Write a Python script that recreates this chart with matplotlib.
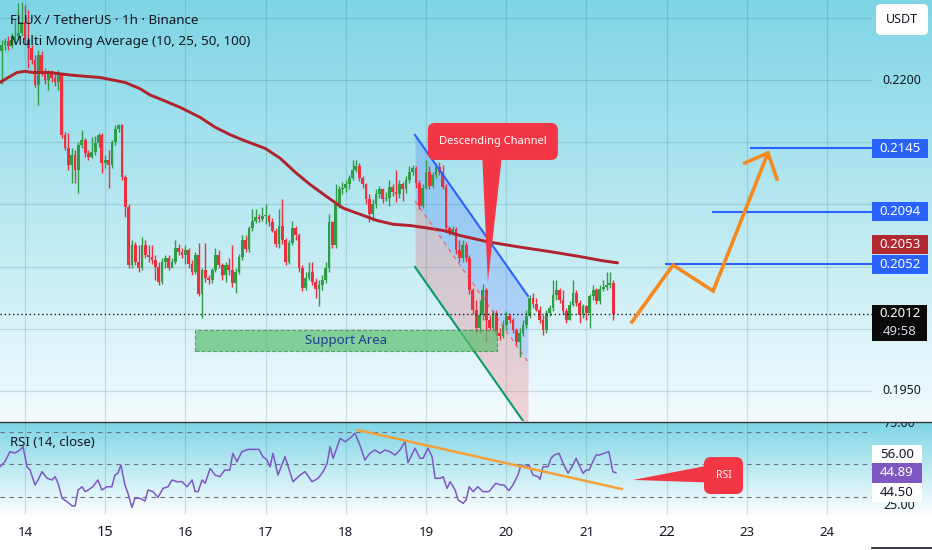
import numpy as np
import matplotlib
matplotlib.use("Agg")
import matplotlib.pyplot as plt
import matplotlib.transforms as mtransforms
from matplotlib.patches import FancyBboxPatch, Polygon, Rectangle
from matplotlib.lines import Line2D

plt.rcParams['font.family'] = ['Noto Sans', 'DejaVu Sans']

# ---------------- data (FLUX/USDT 1h, hours counted from 14 Mar 00:00) ----------------
start_hour = -7
first_open = 0.2223
closes = [0.2228, 0.2231, 0.2227, 0.2232, 0.2235, 0.2238, 0.2247, 0.2232, 0.2226, 0.2216,
          0.2196, 0.2220, 0.2206, 0.2200, 0.2206, 0.2202, 0.2198, 0.2205, 0.2156, 0.2145,
          0.2132, 0.2140, 0.2128, 0.2148, 0.2152, 0.2141, 0.2138, 0.2142, 0.2149, 0.2156,
          0.2133, 0.2136, 0.2132, 0.2150, 0.2161, 0.2164, 0.2122, 0.2098, 0.2051, 0.2067,
          0.2054, 0.2049, 0.2067, 0.2059, 0.2058, 0.2055, 0.2050, 0.2038, 0.2054, 0.2057,
          0.2049, 0.2054, 0.2065, 0.2062, 0.2059, 0.2063, 0.2052, 0.2046, 0.2059, 0.2028,
          0.2047, 0.2041, 0.2039, 0.2047, 0.2059, 0.2051, 0.2043, 0.2051, 0.2047, 0.2037,
          0.2046, 0.2058, 0.2071, 0.2064, 0.2081, 0.2087, 0.2090, 0.2088, 0.2091, 0.2091,
          0.2086, 0.2079, 0.2068, 0.2083, 0.2071, 0.2054, 0.2069, 0.2081, 0.2075, 0.2049,
          0.2033, 0.2041, 0.2046, 0.2038, 0.2032, 0.2035, 0.2039, 0.2049, 0.2086, 0.2067,
          0.2100, 0.2112, 0.2113, 0.2116, 0.2121, 0.2128, 0.2131, 0.2121, 0.2116, 0.2104,
          0.2092, 0.2100, 0.2108, 0.2112, 0.2104, 0.2105, 0.2114, 0.2110, 0.2108, 0.2116,
          0.2112, 0.2120, 0.2126, 0.2129, 0.2117, 0.2099, 0.2113, 0.2126, 0.2115, 0.2124,
          0.2130, 0.2126, 0.2114, 0.2081, 0.2078, 0.2080, 0.2063, 0.2057, 0.2067, 0.2057,
          0.2031, 0.2015, 0.2001, 0.2011, 0.2031, 0.2007, 0.2001, 0.2013, 0.1997, 0.1994,
          0.2003, 0.2010, 0.2007, 0.1999, 0.1989, 0.1997, 0.2003, 0.2010, 0.2025, 0.2020,
          0.2015, 0.2007, 0.1999, 0.2013, 0.2017, 0.2027, 0.2031, 0.2023, 0.2014, 0.2007,
          0.2019, 0.2029, 0.2021, 0.2011, 0.2018, 0.2013, 0.2026, 0.2031, 0.2022, 0.2032,
          0.2034, 0.2035, 0.2037, 0.2012]
highs = [0.2232, 0.2234, 0.2235, 0.2238, 0.2248, 0.2262, 0.2263, 0.2260, 0.2256, 0.2228,
         0.2220, 0.2224, 0.2223, 0.2210, 0.2208, 0.2208, 0.2206, 0.2208, 0.2206, 0.2158,
         0.2157, 0.2145, 0.2144, 0.2150, 0.2160, 0.2153, 0.2144, 0.2154, 0.2155, 0.2157,
         0.2157, 0.2140, 0.2144, 0.2152, 0.2164, 0.2165, 0.2165, 0.2124, 0.2100, 0.2071,
         0.2070, 0.2067, 0.2074, 0.2071, 0.2067, 0.2067, 0.2059, 0.2054, 0.2057, 0.2059,
         0.2059, 0.2057, 0.2071, 0.2068, 0.2065, 0.2067, 0.2065, 0.2055, 0.2062, 0.2069,
         0.2049, 0.2069, 0.2043, 0.2049, 0.2065, 0.2063, 0.2053, 0.2054, 0.2057, 0.2067,
         0.2049, 0.2060, 0.2075, 0.2075, 0.2083, 0.2096, 0.2096, 0.2092, 0.2098, 0.2100,
         0.2092, 0.2089, 0.2081, 0.2096, 0.2104, 0.2073, 0.2071, 0.2087, 0.2083, 0.2077,
         0.2051, 0.2046, 0.2054, 0.2054, 0.2041, 0.2039, 0.2043, 0.2054, 0.2092, 0.2087,
         0.2116, 0.2115, 0.2118, 0.2120, 0.2124, 0.2136, 0.2136, 0.2133, 0.2123, 0.2117,
         0.2108, 0.2104, 0.2112, 0.2115, 0.2113, 0.2110, 0.2120, 0.2116, 0.2128, 0.2120,
         0.2118, 0.2123, 0.2131, 0.2132, 0.2131, 0.2120, 0.2116, 0.2136, 0.2131, 0.2126,
         0.2133, 0.2134, 0.2132, 0.2116, 0.2083, 0.2083, 0.2082, 0.2071, 0.2071, 0.2070,
         0.2059, 0.2033, 0.2023, 0.2023, 0.2036, 0.2033, 0.2011, 0.2015, 0.2015, 0.2001,
         0.2007, 0.2014, 0.2012, 0.2009, 0.2001, 0.2001, 0.2007, 0.2015, 0.2027, 0.2029,
         0.2025, 0.2018, 0.2011, 0.2015, 0.2019, 0.2039, 0.2039, 0.2033, 0.2031, 0.2017,
         0.2022, 0.2039, 0.2031, 0.2023, 0.2020, 0.2019, 0.2028, 0.2035, 0.2033, 0.2035,
         0.2039, 0.2046, 0.2046, 0.2039]
lows = [0.2197, 0.2224, 0.2224, 0.2226, 0.2229, 0.2232, 0.2235, 0.2229, 0.2210, 0.2213,
        0.2194, 0.2180, 0.2203, 0.2197, 0.2192, 0.2198, 0.2195, 0.2192, 0.2153, 0.2144,
        0.2128, 0.2117, 0.2117, 0.2109, 0.2145, 0.2138, 0.2136, 0.2137, 0.2140, 0.2146,
        0.2125, 0.2129, 0.2113, 0.2129, 0.2148, 0.2158, 0.2120, 0.2090, 0.2049, 0.2049,
        0.2051, 0.2046, 0.2047, 0.2057, 0.2054, 0.2052, 0.2039, 0.2035, 0.2036, 0.2049,
        0.2047, 0.2049, 0.2052, 0.2059, 0.2057, 0.2052, 0.2049, 0.2043, 0.2044, 0.2026,
        0.2009, 0.2038, 0.2036, 0.2037, 0.2046, 0.2049, 0.2039, 0.2038, 0.2043, 0.2034,
        0.2029, 0.2044, 0.2055, 0.2062, 0.2062, 0.2079, 0.2085, 0.2086, 0.2087, 0.2084,
        0.2083, 0.2078, 0.2066, 0.2065, 0.2068, 0.2051, 0.2052, 0.2067, 0.2071, 0.2046,
        0.2030, 0.2031, 0.2039, 0.2035, 0.2025, 0.2018, 0.2031, 0.2037, 0.2046, 0.2065,
        0.2065, 0.2097, 0.2108, 0.2110, 0.2112, 0.2120, 0.2126, 0.2119, 0.2113, 0.2100,
        0.2086, 0.2087, 0.2097, 0.2105, 0.2101, 0.2103, 0.2099, 0.2107, 0.2102, 0.2105,
        0.2103, 0.2109, 0.2117, 0.2124, 0.2113, 0.2096, 0.2097, 0.2112, 0.2112, 0.2113,
        0.2121, 0.2124, 0.2112, 0.2078, 0.2075, 0.2075, 0.2060, 0.2054, 0.2054, 0.2054,
        0.2028, 0.2012, 0.1997, 0.1997, 0.2007, 0.1989, 0.1999, 0.1999, 0.1994, 0.1991,
        0.1993, 0.1999, 0.2005, 0.1997, 0.1987, 0.1977, 0.1994, 0.2001, 0.2009, 0.2017,
        0.2014, 0.2005, 0.1995, 0.1997, 0.2010, 0.2014, 0.2023, 0.2021, 0.2012, 0.2005,
        0.2007, 0.2018, 0.2018, 0.2005, 0.2009, 0.2007, 0.2001, 0.2023, 0.2020, 0.2020,
        0.2030, 0.2031, 0.2033, 0.2007]

# 100-period moving average
ma_hours = [-7.5, -5, -2.4, 0, 2.4, 7.5, 13.5, 22.5, 30, 34.4, 37.4, 42, 46.4, 52.4, 56.9,
            61.4, 65.9, 71.9, 76.4, 80.8, 85.3, 90.4, 95.2, 100.3, 105.4, 110.2, 115.3,
            120.4, 125.2, 130.2, 138.3, 147.3, 157.2, 166.2, 172.2, 177.3]
ma_values = [0.2198, 0.2202, 0.2206, 0.2207, 0.2206, 0.2206, 0.2204, 0.2202, 0.2198, 0.2193,
             0.2188, 0.2183, 0.2178, 0.2170, 0.2162, 0.2156, 0.2151, 0.2145, 0.2137, 0.2126,
             0.2116, 0.2106, 0.2097, 0.2092, 0.2087, 0.2084, 0.2083, 0.2081, 0.2079, 0.2075,
             0.2070, 0.2066, 0.2062, 0.2058, 0.2055, 0.2053]

# RSI(14)
rsi_hours = [-7.5, -6.0, -4.5, -3.0, -1.5, -0.6, 0.6, 1.5, 3.0, 3.9,
             5.1, 6.6, 8.1, 9.0, 9.9, 11.1, 12.6, 14.1, 15.0, 15.9,
             17.1, 18.0, 18.9, 20.3, 21.8, 23.0, 24.5, 26.0, 26.9, 27.8,
             28.7, 29.9, 30.8, 32.0, 32.9, 34.4, 35.9, 36.8, 38.3, 39.8,
             41.3, 42.8, 44.0, 45.5, 47.0, 48.5, 50.0, 50.9, 51.8, 53.0,
             53.9, 55.4, 56.9, 58.3, 59.8, 61.3, 62.2, 63.4, 64.9, 66.7,
             69.4, 70.0, 71.2, 72.4, 73.3, 74.2, 75.7, 77.8, 80.2, 82.3,
             83.8, 85.9, 87.7, 89.2, 90.4, 91.3, 92.2, 94.3, 95.8, 97.2,
             98.7, 100.2, 101.7, 103.2, 104.7, 106.2, 107.7, 109.2, 110.7, 112.2,
             113.7, 114.6, 116.7, 118.2, 119.1, 120.6, 121.8, 122.7, 124.2, 125.1,
             126.3, 127.2, 128.7, 129.6, 131.1, 132.0, 132.9, 134.1, 135.5, 137.0,
             138.8, 140.9, 142.4, 143.3, 144.8, 146.0, 147.5, 148.4, 149.9, 150.8,
             152.0, 153.5, 154.1, 155.0, 156.5, 157.4, 158.3, 159.8, 161.0, 162.5,
             164.0, 164.9, 165.8, 167.0, 167.9, 168.8, 169.9, 170.9, 171.8, 173.3,
             174.7, 175.9, 176.8]
rsi_values = [48.6, 51.7, 57.9, 57.0, 58.9, 61.0, 48.6, 46.6, 37.4, 40.5,
              45.6, 41.5, 40.5, 42.5, 38.4, 29.2, 27.1, 24.5, 24.5, 34.3,
              36.3, 33.3, 34.3, 36.3, 40.5, 34.3, 36.3, 36.3, 43.5, 44.6,
              49.7, 37.4, 32.3, 23.6, 29.2, 29.2, 27.5, 34.3, 33.3, 29.8,
              35.3, 36.3, 40.5, 39.4, 39.4, 36.3, 40.5, 33.3, 33.3, 40.5,
              38.4, 47.6, 43.5, 42.5, 46.6, 46.6, 56.9, 51.7, 57.9, 59.3,
              59.3, 59.3, 54.8, 52.8, 48.6, 56.9, 43.5, 54.8, 39.4, 43.5,
              45.6, 39.4, 41.5, 45.6, 50.7, 61.0, 53.8, 66.1, 64.0, 66.1,
              69.2, 62.0, 52.8, 56.9, 58.9, 56.9, 58.9, 57.9, 55.8, 58.9,
              64.0, 51.1, 60.0, 53.8, 53.8, 60.0, 54.8, 41.5, 41.5, 42.5,
              35.3, 39.4, 34.3, 28.2, 26.1, 28.2, 36.3, 33.3, 36.3, 33.3,
              33.3, 38.4, 37.4, 37.4, 33.9, 37.4, 43.5, 49.7, 48.6, 49.7,
              43.5, 42.5, 40.9, 48.6, 48.6, 53.8, 55.8, 56.9, 50.7, 44.6,
              49.7, 53.8, 49.7, 44.6, 46.6, 46.6, 51.7, 55.8, 55.8, 56.9,
              57.9, 45.6, 44.89]

day_ticks = [0, 24, 48, 72, 96, 120, 144, 168, 192, 216, 240]
day_labels = ['14', '15', '16', '17', '18', '19', '20', '21', '22', '23', '24']
bold_days = ['15', '22']
price_grid = [0.1950, 0.2000, 0.2050, 0.2100, 0.2150, 0.2200, 0.2250]
axis_price_labels = ['0.2200', '0.1950']
level_prices = [0.2145, 0.2094, 0.2052]
level_labels = ['0.2145', '0.2094', '0.2052']
level_start_hours = [216.9, 205.6, 191.5]
last_price = 0.2012
countdown = '49:58'
ma_last_label = '0.2053'
rsi_bands = [70, 50, 30]
rsi_last = 44.89

# drawings (anchor points in hours / price)
channel_x = [116.7, 150.5]
channel_upper = [0.21558, 0.20264]
channel_lower = [0.20497, 0.19203]
support_x = (50.9, 141.2)
support_y = (0.19821, 0.19990)
path_x = [181.6, 193.9, 205.9, 222.3]
path_y = [0.20055, 0.20513, 0.20304, 0.21413]
head_x = [215.4, 222.3, 225.0]
head_y = [0.21333, 0.21413, 0.21204]
rsi_trend_x = [99.6, 178.6]
rsi_trend_y = [71.2, 34.9]

# ---------------- layout ----------------
W, H = 932, 550
PANE_R = 872
X0, X1 = -7.48, 253.44
fig = plt.figure(figsize=(W / 100, H / 100), dpi=100)

# gradient background
img = np.ones((H, 1, 3))
top_c = np.array([126, 213, 229]) / 255
bot_c = np.array([243, 251, 253]) / 255
for y in range(H):
    if y < 421:
        t = y / 421
        img[y, 0] = top_c * (1 - t) + bot_c * t
    elif 422 <= y < 516:
        t = (y - 422) / 94
        img[y, 0] = top_c * (1 - t) + np.array([1.0, 1.0, 1.0]) * t
bg = fig.add_axes([0, 0, 1, 1])
bg.imshow(img, aspect='auto', extent=[0, 1, 0, 1], interpolation='bilinear')
bg.set_xlim(0, 1); bg.set_ylim(0, 1)
bg.set_axis_off()

ax = fig.add_axes([0, 1 - 421 / H, PANE_R / W, 421 / H])
rax = fig.add_axes([0, 1 - 515 / H, PANE_R / W, 93 / H])
for a in (ax, rax):
    a.set_axis_off()
    a.set_xlim(X0, X1)
ax.set_ylim(0.192588, 0.226431)
rax.set_ylim(18.92, 76.15)

grid_c = (0.15, 0.35, 0.42, 0.17)
for d in day_ticks:
    ax.axvline(d, color=grid_c, lw=0.9, zorder=1)
    rax.axvline(d, color=grid_c, lw=0.9, zorder=1)
for p in price_grid:
    ax.axhline(p, color=grid_c, lw=0.9, zorder=1)

# ---------------- candles ----------------
c = np.array(closes)
hi = np.array(highs)
lo = np.array(lows)
o = np.concatenate([[first_open], c[:-1]])
hrs = start_hour + np.arange(len(c))
up = c >= o
GREEN, RED = '#2f9c46', '#ee2f3e'
cols = np.where(up, GREEN, RED)
ax.vlines(hrs, lo, hi, colors=cols, lw=1.0, zorder=3)
ax.bar(hrs, np.maximum(np.abs(c - o), 0.00008), bottom=np.minimum(o, c), width=0.82,
       color=cols, lw=0, zorder=3)

ax.plot(ma_hours, ma_values, color='#b0232e', lw=2.1, zorder=4, solid_capstyle='round')

# ---------------- channel ----------------
ch_mid = [(a + b) / 2 for a, b in zip(channel_upper, channel_lower)]
ax.fill_between(channel_x, ch_mid, channel_upper, color='#2962ff', alpha=0.22, lw=0, zorder=2)
ax.fill_between(channel_x, channel_lower, ch_mid, color='#f23645', alpha=0.2, lw=0, zorder=2)
ax.plot(channel_x, channel_upper, color='#2962ff', lw=1.5, zorder=5)
ax.plot(channel_x, channel_lower, color='#0b9a6a', lw=1.5, zorder=5)
ax.plot(channel_x, ch_mid, color='#f23645', lw=1.0, ls=(0, (3, 3)), alpha=0.6, zorder=5)

# support area
ax.add_patch(Rectangle((support_x[0], support_y[0]), support_x[1] - support_x[0],
                       support_y[1] - support_y[0], fc='#5fbf72', alpha=0.72,
                       ec='#2e8b45', lw=0.8, ls='--', zorder=5))
ax.text((support_x[0] + support_x[1]) / 2, (support_y[0] + support_y[1]) / 2, 'Support Area',
        color='#1c3f94', fontsize=9.5, ha='center', va='center', zorder=6)

# levels and projection
ax.hlines(level_prices, level_start_hours, X1, color='#2962ff', lw=1.5, zorder=5)
ax.axhline(last_price, color='#131722', lw=1.0, ls=(0, (1, 2)), zorder=5)
ax.plot(path_x, path_y, color='#f5891f', lw=2.6, zorder=6, solid_joinstyle='miter')
ax.plot(head_x, head_y, color='#f5891f', lw=2.6, zorder=6, solid_joinstyle='miter')

# helpers in display pixels
ident = mtransforms.IdentityTransform()


def box(xc, yc, w, h, fc, r=0.0, z=5):
    style = 'round,pad=0,rounding_size=%g' % r if r > 0 else 'square,pad=0'
    fig.add_artist(FancyBboxPatch((xc - w / 2, yc - h / 2), w, h, boxstyle=style, fc=fc,
                                  ec='none', transform=ident, zorder=z))


def dtext(xc, yc, s, z=6, **kw):
    fig.text(xc, yc, s, transform=ident, ha='center', va='center', zorder=z, **kw)


def disp(axis, x, y):
    return axis.transData.transform((x, y))

# Descending Channel callout
cx, cy = disp(ax, 140.0, 0.21506)
ax.add_patch(Polygon([(136.7, 0.2146), (143.0, 0.2146), (138.5, 0.20376)], closed=True,
                     fc='#f23645', ec='none', zorder=7))
box(cx, cy, 130, 37, '#f23645', r=7, z=2)
dtext(cx, cy, 'Descending Channel', color='white', fontsize=8, fontweight='bold')

# ---------------- RSI pane ----------------
for b in rsi_bands:
    rax.axhline(b, color='#6b7280', lw=0.8, ls=(0, (4, 4)), zorder=2)
rax.plot(rsi_hours, rsi_values, color='#7e57c2', lw=1.1, zorder=3)
rax.plot(rsi_trend_x, rsi_trend_y, color='#f2a03a', lw=1.8, zorder=4)
rax.add_patch(Polygon([(181.9, 40.5), (203.5, 49.0), (203.5, 39.0)], closed=True,
                      fc='#f23645', ec='none', zorder=5))
rx, ry = disp(rax, 209.0, 43.2)
box(rx, ry, 39, 37, '#f23645', r=7, z=2)
dtext(rx, ry, 'RSI', color='white', fontsize=7.5, fontweight='bold')

# ---------------- texts ----------------
fig.text(10 / W, 1 - 20 / H, 'FLUX / TetherUS · 1h · Binance', fontsize=9.6, fontweight='bold',
         color='#131722', va='center')
fig.text(10 / W, 1 - 41 / H, 'Multi Moving Average (10, 25, 50, 100)', fontsize=9.7,
         color='#131722', va='center')
fig.text(10 / W, 1 - 442 / H, 'RSI (14, close)', fontsize=9.5, color='#131722', va='center')

bx = mtransforms.blended_transform_factory(ax.transData, fig.transFigure)
for d, lab in zip(day_ticks, day_labels):
    fig.text(d, 1 - 533 / H, lab, transform=bx, ha='center', va='center', color='#131722',
             fontsize=10.5 if lab in bold_days else 9.5,
             fontweight='bold' if lab in bold_days else 'normal')

# price scale
PX = 900
for lab in axis_price_labels:
    yy = disp(ax, 0, float(lab))[1]
    dtext(PX + 2, yy, lab, z=1, fontsize=9, color='#131722')
box(902, H - 19.5, 52, 31, 'white', r=5, z=4)
dtext(902, H - 19.5, 'USDT', fontsize=9, color='#131722')
for p, lab in zip(level_prices, level_labels):
    yy = disp(ax, 0, p)[1]
    box(PX, yy, 56, 19, '#2962ff', z=4)
    dtext(PX, yy, lab, fontsize=9.5, color='white')
yy52 = disp(ax, 0, 0.2052)[1]
box(PX, yy52 + 19.5, 56, 19, '#b22833', z=4)
dtext(PX, yy52 + 19.5, ma_last_label, fontsize=9.5, color='white')
yl = disp(ax, 0, last_price)[1]
box(PX - 0.5, yl - 9, 55, 36, '#0a0a0a', z=4)
dtext(PX, yl, '0.2012', fontsize=9.5, color='white')
dtext(PX, yl - 18, countdown, fontsize=9.5, color='#d1d4dc')

# RSI scale
RX = 897
r_ax = fig.add_axes([PANE_R / W, 1 - 515 / H, (W - PANE_R) / W, 93 / H])
r_ax.set_axis_off()
r_ax.set_xlim(0, 1)
r_ax.set_ylim(18.92, 76.15)
r_ax.text(0.45, 75, '75.00', ha='center', va='center', fontsize=9, color='#131722', clip_on=True)
r_ax.text(0.45, 25, '25.00', ha='center', va='center', fontsize=9, color='#131722', clip_on=True)
y56 = disp(rax, 0, 56)[1]
box(RX, y56, 50, 19, 'white', z=4)
dtext(RX, y56, '56.00', fontsize=9.5, color='#131722')
y44 = disp(rax, 0, rsi_last)[1]
box(RX, y44, 50, 20, '#7e57c2', z=4)
dtext(RX, y44, '%.2f' % rsi_last, fontsize=9.5, color='white')
box(RX, y44 - 19.5, 50, 19, 'white', z=4)
dtext(RX, y44 - 19.5, '44.50', fontsize=9.5, color='#131722')

# separators
fig.add_artist(Line2D([0, 1], [1 - 421.5 / H] * 2, transform=fig.transFigure,
                      color='#2f3440', lw=1.0, zorder=8))
fig.add_artist(Line2D([PANE_R / W, 1], [1 - 548 / H] * 2, transform=fig.transFigure,
                      color='#131722', lw=1.2, zorder=8))

fig.savefig('out.png', dpi=100)
